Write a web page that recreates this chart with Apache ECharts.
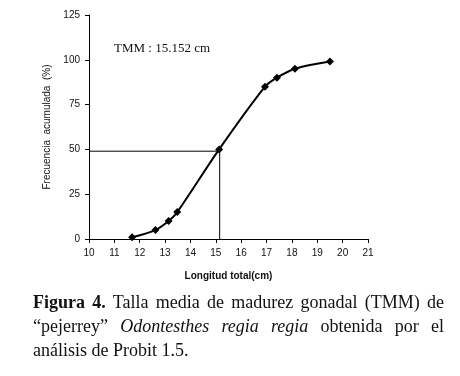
<!DOCTYPE html>
<html>
<head>
<meta charset="utf-8">
<script src="https://cdn.jsdelivr.net/npm/echarts@6/dist/echarts.min.js"></script>
<style>
html,body{margin:0;padding:0;background:#fff;}
#wrap{position:relative;width:460px;height:376px;}
#chart{position:absolute;left:0;top:0;width:460px;height:376px;}
#caption{position:absolute;left:33px;top:290px;width:411px;font-family:"Liberation Serif","Times New Roman",serif;font-size:18px;line-height:24px;color:#111;text-align:justify;}
</style>
</head>
<body>
<div id="wrap">
<div id="chart"></div>
<div id="caption"><b>Figura 4.</b> Talla media de madurez gonadal (TMM) de &ldquo;pejerrey&rdquo; <i>Odontesthes regia regia</i> obtenida por el análisis de Probit 1.5.</div>
</div>
<script>
// longitud total (cm) y frecuencia acumulada (%)
var longitud = [11.7, 12.62, 13.14, 13.48, 15.13, 16.94, 17.41, 18.12, 19.5];
var frecuencia = [1, 5, 10, 15, 50, 85, 90, 95, 99];
var tmm = 15.152;
var tmmFrec = 49;

var puntos = [];
for (var i = 0; i < longitud.length; i++) {
	puntos.push([longitud[i], frecuencia[i]]);
}

var chart = echarts.init(document.getElementById("chart"));
var option = {
	animation: false,
	grid: {
		left: 89,
		right: 92,
		top: 15,
		bottom: 137
	},
	xAxis: {
		type: 'value',
		min: 10,
		max: 21,
		interval: 1,
		name: 'Longitud total(cm)',
		nameLocation: 'middle',
		nameGap: 32,
		nameTextStyle: {
			fontFamily: 'Liberation Sans',
			fontSize: 10,
			fontWeight: 'bold',
			color: '#111'
		},
		splitLine: {show: false},
		axisLine: {lineStyle: {color: '#000', width: 1}},
		axisTick: {show: true, length: 4, lineStyle: {color: '#000'}},
		axisLabel: {
			margin: 9,
			fontFamily: 'Liberation Sans',
			fontSize: 10,
			color: '#111'
		}
	},
	yAxis: {
		type: 'value',
		min: 0,
		max: 125,
		interval: 25,
		name: 'Frecuencia  acumulada  (%)',
		nameLocation: 'middle',
		nameGap: 35,
		nameTextStyle: {
			fontFamily: 'Liberation Sans',
			fontSize: 10,
			color: '#111'
		},
		splitLine: {show: false},
		axisLine: {show: true, lineStyle: {color: '#000', width: 1}},
		axisTick: {show: true, length: 4, lineStyle: {color: '#000'}},
		axisLabel: {
			margin: 9,
			fontFamily: 'Liberation Sans',
			fontSize: 10,
			color: '#111'
		}
	},
	graphic: [{
		type: 'text',
		left: 114,
		top: 42,
		style: {
			text: 'TMM : ' + tmm + ' cm',
			fontFamily: 'Liberation Serif',
			fontSize: 13,
			fill: '#111'
		}
	}],
	series: [
		{
			name: 'TMM',
			type: 'line',
			data: [[10, tmmFrec], [tmm, tmmFrec], [tmm, 0]],
			symbol: 'none',
			lineStyle: {color: '#000', width: 1},
			silent: true
		},
		{
			name: 'Frecuencia',
			type: 'line',
			data: puntos,
			smooth: 0.3,
			symbol: 'diamond',
			symbolSize: 8,
			itemStyle: {color: '#000'},
			lineStyle: {color: '#000', width: 2}
		}
	]
};
chart.setOption(option);
</script>
</body>
</html>
